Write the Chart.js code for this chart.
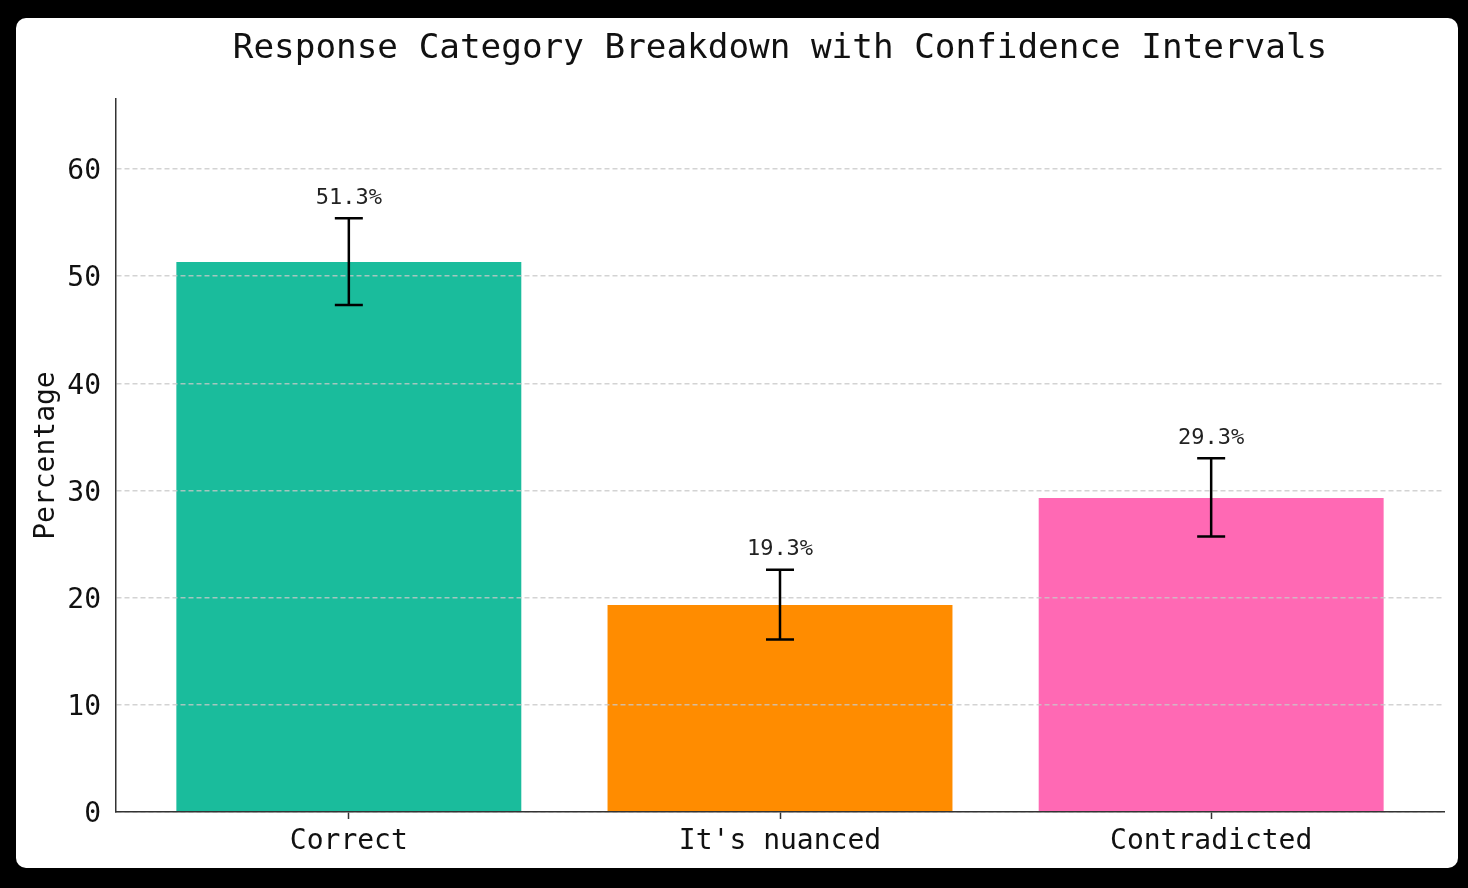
<!DOCTYPE html>
<html>
<head>
<meta charset="utf-8">
<script src="https://cdn.jsdelivr.net/npm/chart.js@4.4.0/dist/chart.umd.min.js"></script>
<style>
  html, body { margin: 0; padding: 0; background: #000; }
  #card { position: absolute; left: 16px; top: 18px; width: 1442px; height: 850px; background: #fff; border-radius: 10px; overflow: hidden; }
</style>
</head>
<body>
<div id="card"><canvas id="mycanvas" width="1442" height="850"></canvas></div>
<script>
var categories = ["Correct", "It's nuanced", "Contradicted"];
var percentages = [51.3, 19.3, 29.3];
var ciLower = [47.3, 16.1, 25.7];
var ciUpper = [55.4, 22.6, 33.0];
var barColors = ["#1ABC9C", "#FF8C00", "#FF69B4"];
var yTicks = [0, 10, 20, 30, 40, 50, 60];
var yMax = 66.5;

var mono = "'DejaVu Sans Mono', monospace";

// error bars + value labels on top
var errorBars = {
  id: 'errorBars',
  afterDraw: function(chart) {
    var ctx = chart.ctx;
    var xs = chart.scales.x;
    var ys = chart.scales.y;
    ctx.save();
    ctx.strokeStyle = '#000';
    ctx.lineWidth = 2.5;
    for (var i = 0; i < percentages.length; i++) {
      var x = xs.getPixelForValue(i);
      var top = ys.getPixelForValue(ciUpper[i]);
      var bot = ys.getPixelForValue(ciLower[i]);
      ctx.beginPath();
      ctx.moveTo(x, top); ctx.lineTo(x, bot);
      ctx.moveTo(x - 14, top); ctx.lineTo(x + 14, top);
      ctx.moveTo(x - 14, bot); ctx.lineTo(x + 14, bot);
      ctx.stroke();

      ctx.fillStyle = '#222';
      ctx.font = '22px ' + mono;
      ctx.textAlign = 'center';
      ctx.textBaseline = 'middle';
      ctx.fillText(percentages[i].toFixed(1) + '%', x, top - 20);
    }
    ctx.restore();
  }
};

var chartdata = {
  datasets: [
    {
      label: 'Percentage',
      backgroundColor: barColors,
      borderWidth: 0,
      categoryPercentage: 0.8,
      barPercentage: 1.0,
      data: percentages.map(function(v, i) { return { x: i, y: v }; })
    }
  ]
};

var ctx = document.getElementById('mycanvas');

var barGraph = new Chart(ctx, {
  type: 'bar',
  data: chartdata,
  plugins: [errorBars],
  options: {
    responsive: false,
    animation: false,
    devicePixelRatio: 1,
    layout: { padding: { left: 0, right: 14, top: 0, bottom: 0 } },
    plugins: {
      legend: { display: false },
      tooltip: { enabled: false },
      title: {
        display: true,
        fullSize: false,
        text: 'Response Category Breakdown with Confidence Intervals',
        color: '#111',
        font: { family: mono, size: 34.3, weight: 'normal', lineHeight: 1.2 },
        padding: { top: 11, bottom: 29 }
      }
    },
    scales: {
      x: {
        type: 'linear',
        min: -0.54,
        max: 2.54,
        offset: false,
        afterBuildTicks: function(scale) {
          scale.ticks = categories.map(function(c, i) { return { value: i }; });
        },
        afterFit: function(scale) { scale.height = 56; },
        ticks: {
          autoSkip: false,
          maxRotation: 0,
          padding: 6,
          color: '#111',
          font: { family: mono, size: 28 },
          callback: function(v) { return categories[v]; }
        },
        grid: {
          offset: false,
          drawOnChartArea: false,
          drawTicks: true,
          tickLength: 7,
          tickColor: '#333',
          tickWidth: 1.5
        },
        border: { display: true, color: '#333', width: 1.5, z: 2 }
      },
      y: {
        min: 0,
        max: yMax,
        afterBuildTicks: function(scale) {
          scale.ticks = yTicks.map(function(v) { return { value: v }; });
        },
        afterFit: function(scale) { scale.width = 100; },
        ticks: {
          padding: 15,
          labelOffset: 3,
          color: '#111',
          font: { family: mono, size: 28 }
        },
        grid: {
          color: 'rgba(200,200,200,0.8)',
          lineWidth: 1.4,
          drawTicks: false,
          z: 1
        },
        border: { display: true, color: '#333', width: 1.5, dash: [5, 3], dashOffset: 0, z: 2 },
        title: {
          display: true,
          text: 'Percentage',
          color: '#111',
          font: { family: mono, size: 28, lineHeight: 1.2 },
          padding: { top: 14, bottom: 0 }
        }
      }
    }
  }
});
</script>
</body>
</html>
